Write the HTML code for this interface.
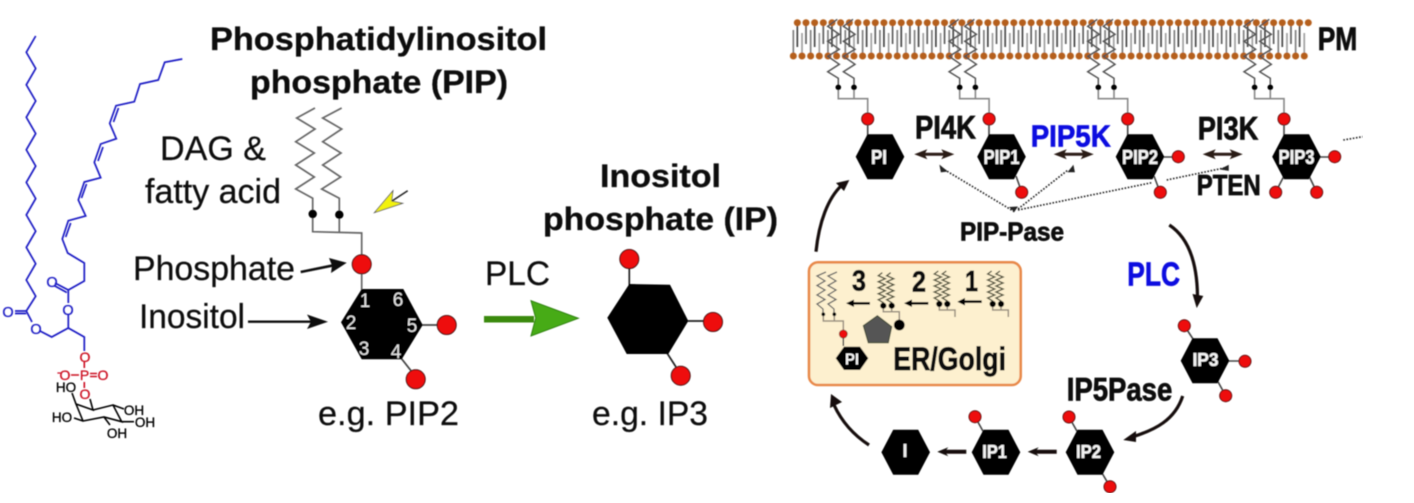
<!DOCTYPE html>
<html><head><meta charset="utf-8"><style>
html,body{margin:0;padding:0;background:#fff;width:1414px;height:503px;overflow:hidden}
svg{display:block}
text{font-family:"Liberation Sans",sans-serif}
.t{fill:#111;font-size:34px;stroke:#111;stroke-width:.25}
.b{fill:#0a0a0a;font-size:32px;font-weight:bold;stroke:#0a0a0a;stroke-width:.7}
.bl{fill:#1111e0;font-size:33px;font-weight:bold;stroke:#1111e0;stroke-width:.7}
.ti{fill:#0a0a0a;font-size:32px;font-weight:bold;stroke:#0a0a0a;stroke-width:.3}
.h{fill:#f4f4f4;font-weight:bold;font-size:20px;stroke:#f4f4f4;stroke-width:.3}
.n{fill:#e4e4e4;font-size:19px;text-anchor:middle}
</style></head><body>
<svg width="1414" height="503" viewBox="0 0 1414 503" xmlns="http://www.w3.org/2000/svg">
<defs>
<filter id="soft" x="0" y="0" width="100%" height="100%"><feGaussianBlur stdDeviation="0.4"/></filter>
<pattern id="headT" patternUnits="userSpaceOnUse" x="793" y="18" width="8.66" height="10"><circle cx="4.33" cy="4.7" r="3.5" fill="#b55f1c"/></pattern>
<pattern id="headB" patternUnits="userSpaceOnUse" x="789" y="51" width="8.66" height="10"><circle cx="4.33" cy="5" r="3.5" fill="#b55f1c"/></pattern>
<pattern id="tailT" patternUnits="userSpaceOnUse" x="793" y="22" width="17.32" height="30"><path d="M4.33 0V25" stroke="#3a3a3a" stroke-width="1.6"/><path d="M12.99 0V22" stroke="#555" stroke-width="1.6"/></pattern>
<pattern id="tailB" patternUnits="userSpaceOnUse" x="789" y="28" width="17.32" height="30"><path d="M4.33 2V28" stroke="#777" stroke-width="1.6"/><path d="M12.99 5V28" stroke="#999" stroke-width="1.6"/></pattern>
<polygon id="hex" points="-24.3,0 -12.5,-22.5 12.5,-22.5 24.3,0 12.5,22.5 -12.5,22.5" fill="#000"/>
<circle id="red" r="6" fill="#ee1111" stroke="#5a1010" stroke-width="1"/>
<polyline id="zig" points="0,0 0,-9 -10.6,-15.6 1,-23 -10.6,-31 1,-38 -10.6,-46 1,-53 -10.6,-61 -1,-68" fill="none" stroke="#555" stroke-width="1.5"/>
<g id="lipid">
<use href="#zig"/><use href="#zig" x="15.7"/>
<path d="M0 0V11.4H29.4V32M15.7 0V11.4" fill="none" stroke="#888" stroke-width="1.6"/>
<circle cx="0" cy="0" r="2.8" fill="#000"/><circle cx="15.7" cy="0" r="2.8" fill="#000"/>
<circle cx="29.4" cy="31.7" r="6" fill="#ee1111" stroke="#5a1010" stroke-width="1"/>
</g>
<path id="dbl" d="M-20 0L-7 -5L-9 -1.5H9L7 -5L20 0L7 5L9 1.5H-9L-7 5Z" fill="#2a1d14"/>
<path id="lft" d="M0 0L11 -4.5L9 -2H29V2H9L11 4.5Z" fill="#120c08"/>
<polyline id="sq" points="0,0 0,-3 -5,-6 2,-9 -5,-12 2,-15 -5,-18 2,-21 -5,-24 2,-27 -5,-30 -1,-33" fill="none" stroke="#55553f" stroke-width="1.4"/>
</defs>
<rect width="1414" height="503" fill="#fff"/>
<g filter="url(#soft)">

<!-- Chemical structure -->
<g fill="none" stroke="#1c1cc4" stroke-width="1.7">
<polyline points="35.7,36 26.3,52.3 35.7,68.5 26.3,84.8 35.7,101 26.3,117.3 35.7,133.6 26.3,149.8 35.7,166.1 26.3,182.4 35.7,198.6 26.3,214.9 35.7,231.2 26.3,247.4 35.7,263.7 26.3,280 35.7,296.2 26.3,311"/>
<polyline points="182.3,59 164.7,62.3 158.3,80 140,84 134.3,101.7 116,105.7 109.7,123.3 116.3,138.7 100.7,144 94.3,162.3 100.7,177.7 84.3,182 78.3,200 85.7,216 68.3,220.7 62.3,239 67.7,253 84.3,263 84.3,281 68.3,290 68.3,303"/>
<path d="M113.5 122L118.5 108M98 161L103 147M81.5 198L86.5 184M65.7 237L70.7 223"/>
<path d="M68.3 290L55 283M66.8 292.5L54 285.5M26.3 311L15 311M26.3 313.5L15 313.5"/>
<path d="M26.3 311L32 322M40 331L51.7 337L68.3 328L84.3 337V351M68.3 328V315"/>
</g>
<g font-size="14.5" fill="#1c1cc4" stroke="#1c1cc4" stroke-width=".3" text-anchor="middle">
<text x="8" y="317">O</text><text x="36" y="334">O</text><text x="68" y="315">O</text><text x="52" y="287">O</text>
</g>
<g fill="none" stroke="#cc1122" stroke-width="1.6"><path d="M84.3 362V368M84.3 382V388M71 375H79M90 373.5H97M90 376.5H97"/></g>
<g font-size="14" fill="#cc1122" stroke="#cc1122" stroke-width=".3" text-anchor="middle">
<text x="85" y="362">O</text><text x="65" y="380">O</text><text x="84.5" y="380">P</text><text x="103" y="380">O</text><text x="85" y="399">O</text><text x="59" y="376" font-size="12">-</text>
</g>
<path d="M90 399L93 410L76 404L83 421L104 417L121.7 421.7L113 405L93 410M76 404L72 393M83 421L74 418M104 417L110 425M121.7 421.7L134 421.7M113 405L124 409" fill="none" stroke="#000" stroke-width="1.6"/>
<g font-size="13.5" fill="#000" stroke="#000" stroke-width=".3" text-anchor="middle">
<text x="66" y="392">HO</text><text x="134" y="415">OH</text><text x="145" y="427">OH</text><text x="117" y="438">OH</text><text x="62" y="422">HO</text>
</g>

<!-- Middle PIP -->
<text class="ti" x="210" y="50" textLength="337" lengthAdjust="spacingAndGlyphs">Phosphatidylinositol</text>
<text class="ti" x="250" y="93" textLength="258" lengthAdjust="spacingAndGlyphs">phosphate (PIP)</text>
<text class="t" x="160" y="160" textLength="106" lengthAdjust="spacingAndGlyphs">DAG &amp;</text>
<text class="t" x="145" y="203" textLength="136" lengthAdjust="spacingAndGlyphs">fatty acid</text>
<text class="t" x="133" y="280" textLength="162" lengthAdjust="spacingAndGlyphs">Phosphate</text>
<text class="t" x="139" y="328" textLength="106" lengthAdjust="spacingAndGlyphs">Inositol</text>
<text class="t" x="318" y="425" textLength="141" lengthAdjust="spacingAndGlyphs">e.g. PIP2</text>
<g fill="none" stroke="#666" stroke-width="1.7">
<polyline points="315,108 296.7,118 315,129 295.7,141.7 314.3,153 295.7,165 314.3,177 295.7,189 312.7,198.3 312.7,231.7 361.7,233 361.7,290"/>
<polyline points="341.7,108 322.7,118 341.7,129 322.7,141.7 341,153 322.7,165 340.7,177 321.7,189 339.3,198.3 339.3,232"/>
</g>
<circle cx="312.7" cy="214" r="4.2" fill="#000"/><circle cx="339.3" cy="214.7" r="4.2" fill="#000"/>
<path d="M407.7 190.7L392 201" stroke="#222" stroke-width="1.5"/>
<polygon points="374.3,212.7 393,190.7 391.7,201 402.7,203.3" fill="#f2f20c" stroke="#555" stroke-width="0.8"/>
<circle cx="361.7" cy="264.3" r="9.5" fill="#ee1111" stroke="#3a1010" stroke-width="1"/>
<path d="M422 325H437M401 358L412 372" stroke="#444" stroke-width="1.8"/>
<polygon points="361.7,289 403.3,289 422.7,325 401.7,359.3 361.7,359.3 341,322.3" fill="#000"/>
<circle cx="446.7" cy="325" r="9.5" fill="#ee1111" stroke="#3a1010" stroke-width="1"/>
<circle cx="415.7" cy="379.3" r="9.5" fill="#ee1111" stroke="#3a1010" stroke-width="1"/>
<text class="n" x="365" y="307">1</text><text class="n" x="398" y="306">6</text><text class="n" x="351" y="329">2</text><text class="n" x="412" y="332">5</text><text class="n" x="364" y="355">3</text><text class="n" x="396" y="358">4</text>
<path d="M300.7 272L336 264.8" stroke="#111" stroke-width="2.6"/><polygon points="346.7,262.7 329,258 332,265.5 331,273" fill="#111"/>
<path d="M248 321.7H318" stroke="#111" stroke-width="2.4"/><polygon points="328,321.7 307,314.5 311,321.7 307,329" fill="#111"/>

<!-- Green arrow & IP -->
<text class="t" x="485" y="285" textLength="65" lengthAdjust="spacingAndGlyphs">PLC</text>
<rect x="484" y="316" width="50" height="6.5" fill="#3a8a10"/>
<polygon points="531,300.7 578.3,318.3 531,336 535.7,318" fill="#47ab14" stroke="#2c7f10" stroke-width="1"/>
<text class="ti" x="600" y="187" textLength="121" lengthAdjust="spacingAndGlyphs">Inositol</text>
<text class="ti" x="543" y="230" textLength="235" lengthAdjust="spacingAndGlyphs">phosphate (IP)</text>
<path d="M629.3 268V285M688 321H704M667 353L676 367" stroke="#222" stroke-width="1.7"/>
<polygon points="629.3,284 670,284.7 688.3,321 668.3,354 626.7,354 607.3,317.7" fill="#000"/>
<circle cx="629.3" cy="259" r="9.5" fill="#ee1111" stroke="#3a1010" stroke-width="1"/>
<circle cx="713" cy="322" r="9.5" fill="#ee1111" stroke="#3a1010" stroke-width="1"/>
<circle cx="680.7" cy="375.7" r="9.5" fill="#ee1111" stroke="#3a1010" stroke-width="1"/>
<text class="t" x="592" y="425" textLength="116" lengthAdjust="spacingAndGlyphs">e.g. IP3</text>

<!-- Membrane -->
<rect x="793" y="22" width="513" height="28" fill="url(#tailT)"/>
<rect x="789" y="28" width="519" height="30" fill="url(#tailB)"/>
<rect x="793" y="18" width="519.6" height="10" fill="url(#headT)"/>
<rect x="789" y="51" width="519.6" height="10" fill="url(#headB)"/>
<text class="b" x="1317.7" y="50" textLength="39.6" lengthAdjust="spacingAndGlyphs">PM</text>

<!-- Lipids -->
<use href="#lipid" x="838.3" y="87.3"/>
<use href="#lipid" x="959.7" y="87.3"/>
<use href="#lipid" x="1098.3" y="87.3"/>
<use href="#lipid" x="1254.6" y="87.3"/>
<g stroke="#444" stroke-width="1.6">
<path d="M867.7 125V136M989 125V136M1127.7 125V136M1284 125V136"/>
<path d="M1016 176L1021.7 192M1164 157H1178M1154 176L1160 192M1320 157H1334M1309 176L1316.7 192M1284 176L1275.7 192"/>
<path d="M1184.3 325.7L1195 342M1228 361H1245M1217 380L1225.7 395.7M1069 417L1078 433M1102 473L1110 486.7M975 416.7L984 433"/>
</g>
<use href="#hex" x="880" y="156.7"/><use href="#hex" x="1001.5" y="156.7"/><use href="#hex" x="1140" y="156.7"/><use href="#hex" x="1296.5" y="156.7"/>
<use href="#red" x="1021.7" y="192.3"/><use href="#red" x="1178.3" y="156.7"/><use href="#red" x="1160.3" y="192.3"/>
<use href="#red" x="1334.7" y="156.7"/><use href="#red" x="1316.7" y="192.3"/><use href="#red" x="1275.7" y="192.3"/>
<text class="h" x="871" y="164" textLength="16" lengthAdjust="spacingAndGlyphs">PI</text>
<text class="h" x="983.5" y="164" textLength="36" lengthAdjust="spacingAndGlyphs">PIP1</text>
<text class="h" x="1122" y="164" textLength="36" lengthAdjust="spacingAndGlyphs">PIP2</text>
<text class="h" x="1278.5" y="164" textLength="36" lengthAdjust="spacingAndGlyphs">PIP3</text>

<!-- enzyme labels -->
<text class="b" x="915" y="138.3" textLength="61" lengthAdjust="spacingAndGlyphs">PI4K</text>
<text class="bl" x="1030.7" y="146.7" style="font-size:31px" textLength="80" lengthAdjust="spacingAndGlyphs">PIP5K</text>
<text class="b" x="1197.7" y="139.3" textLength="60.6" lengthAdjust="spacingAndGlyphs">PI3K</text>
<text class="b" x="1196.7" y="195" style="font-size:29px" textLength="64" lengthAdjust="spacingAndGlyphs">PTEN</text>
<text class="b" x="960" y="240.7" style="font-size:26px" textLength="104" lengthAdjust="spacingAndGlyphs">PIP-Pase</text>
<text class="bl" x="1127.3" y="285.7" textLength="52.7" lengthAdjust="spacingAndGlyphs">PLC</text>
<text class="b" x="1066.7" y="400.7" textLength="105.6" lengthAdjust="spacingAndGlyphs">IP5Pase</text>

<use href="#dbl" x="934.3" y="154.3"/><use href="#dbl" x="1073.7" y="154.3"/><use href="#dbl" x="1222.7" y="154.3"/>

<!-- dotted -->
<g fill="none" stroke="#222" stroke-width="1.6" stroke-dasharray="1.6 1.6">
<path d="M1014.3 211.7L945 170M1018 209L1068 170M1018 210L1151.7 182.7M1166.7 180L1224 168M1343.3 140L1362.7 136.7"/>
</g>
<polygon points="1014.3,212 1009,207 1018,206.5" fill="#222"/>
<polygon points="940.5,166.5 946,171 941.5,171.5" fill="#222" stroke="#222" stroke-width="1.5"/>
<polygon points="1073,166.5 1069,171.5 1074,171.5" fill="#222" stroke="#222" stroke-width="1.5"/>
<polygon points="1228,166 1222,169 1228,170" fill="#222" stroke="#222" stroke-width="1.5"/>

<!-- curved arrows -->
<g fill="none" stroke="#140d08" stroke-width="3.2">
<path d="M816 251.7C819 222 828 198 842 185"/>
<path d="M1169.3 225C1186 236 1197 258 1197.5 296"/>
<path d="M1182.7 396C1175 420 1155 430 1132 437"/>
<path d="M869 445C852 434 841 420 834 405"/>
</g>
<polygon points="849.3,180 836,183 844,191" fill="#140d08"/>
<polygon points="1196.7,308 1192.5,294 1203.3,296" fill="#140d08"/>
<polygon points="1123.3,440 1136,431 1136,442" fill="#140d08"/>
<polygon points="831,394 830,408 842,402" fill="#140d08"/>

<!-- ER box -->
<rect x="809" y="262.3" width="211.7" height="122.7" rx="9" fill="#fdf0cf" stroke="#e8894a" stroke-width="2.6"/>
<g fill="none" stroke="#666" stroke-width="1.3">
<polyline points="826,272 817,276 825,281 817,285.5 825,290 817,295 825,299.5 817,304 823,309 823,314"/>
<polyline points="837,272 828,276 836,281 828,285.5 836,290 828,295 836,299.5 828,304 834,309 834,314"/>
</g>
<use href="#sq" x="883.3" y="305.7"/><use href="#sq" x="891.7" y="305.7"/>
<use href="#sq" x="939.3" y="304"/><use href="#sq" x="947.3" y="304"/>
<use href="#sq" x="992.7" y="304"/><use href="#sq" x="1001" y="304"/>
<g fill="none" stroke="#998f80" stroke-width="1.5">
<path d="M823.3 314V321H843.3V330M834.3 314V321"/>
<path d="M883.3 306V311.7H899.3V322M891.7 306V311.7"/>
<path d="M939.3 304V310H955V317M947.3 304V310"/>
<path d="M992.7 304V310H1008.3V317M1001 304V310"/>
</g>
<circle cx="823.3" cy="314.3" r="1.9" fill="#000"/><circle cx="834.3" cy="314.3" r="1.9" fill="#000"/>
<circle cx="883.3" cy="305.7" r="3.1" fill="#000"/><circle cx="891.7" cy="305.7" r="3.1" fill="#000"/>
<circle cx="939.3" cy="304" r="3.1" fill="#000"/><circle cx="947.3" cy="304" r="3.1" fill="#000"/>
<circle cx="992.7" cy="304" r="3.1" fill="#000"/><circle cx="1001" cy="304" r="3.1" fill="#000"/>
<path d="M843.3 338V346" stroke="#444" stroke-width="1.5"/>
<circle cx="843.3" cy="334" r="4" fill="#ee1111" stroke="#7a1a10" stroke-width="0.8"/>
<polygon points="835.7,358.3 844,346.7 860,346.7 868.3,358.3 860,370 844,370" fill="#000"/>
<text x="845" y="364.5" font-size="16" font-weight="bold" fill="#f4f4f4" textLength="14" lengthAdjust="spacingAndGlyphs">PI</text>
<polygon points="877.3,315.7 891.7,326.7 888.3,342.7 868.3,342.7 863.3,325.7" fill="#555" stroke="#3f4a30" stroke-width="1"/>
<circle cx="899.3" cy="325" r="5.4" fill="#000"/>
<text class="b" x="893.3" y="370" style="font-size:32px" textLength="112.7" lengthAdjust="spacingAndGlyphs">ER/Golgi</text>
<text class="b" x="852" y="290.7" style="font-size:29px" textLength="14" lengthAdjust="spacingAndGlyphs">3</text>
<text class="b" x="912" y="291.7" style="font-size:29px" textLength="14" lengthAdjust="spacingAndGlyphs">2</text>
<text class="b" x="965" y="291" style="font-size:29px" textLength="13" lengthAdjust="spacingAndGlyphs">1</text>
<g fill="#000">
<path d="M846 303.3L854 299.5V302H870V304.6H854V307Z"/>
<path d="M904 303.3L912 299.5V302H928.3V304.6H912V307Z"/>
<path d="M957.3 301.7L965 297.9V300.4H981.7V303H965V305.5Z"/>
</g>

<!-- IP chain -->
<use href="#hex" x="1205" y="360.7"/><use href="#hex" x="1090" y="452.3"/><use href="#hex" x="996" y="452.3"/><use href="#hex" x="905.7" y="452.3"/>
<use href="#red" x="1184.3" y="325.7"/><use href="#red" x="1245" y="361.3"/><use href="#red" x="1225.7" y="395.7"/>
<use href="#red" x="1069" y="417"/><use href="#red" x="1110" y="486.7"/><use href="#red" x="975" y="416.7"/>
<text class="h" x="1192.5" y="366" style="font-size:18px" textLength="26" lengthAdjust="spacingAndGlyphs">IP3</text>
<text class="h" x="1076" y="458" style="font-size:18px" textLength="25" lengthAdjust="spacingAndGlyphs">IP2</text>
<text class="h" x="982.3" y="458" style="font-size:18px" textLength="24.5" lengthAdjust="spacingAndGlyphs">IP1</text>
<text class="h" x="902.7" y="457" style="font-size:18px" textLength="4.5" lengthAdjust="spacingAndGlyphs">I</text>
<use href="#lft" x="1027.7" y="451.7"/><use href="#lft" x="937.3" y="451.7"/>
</g>
</svg>
</body></html>
